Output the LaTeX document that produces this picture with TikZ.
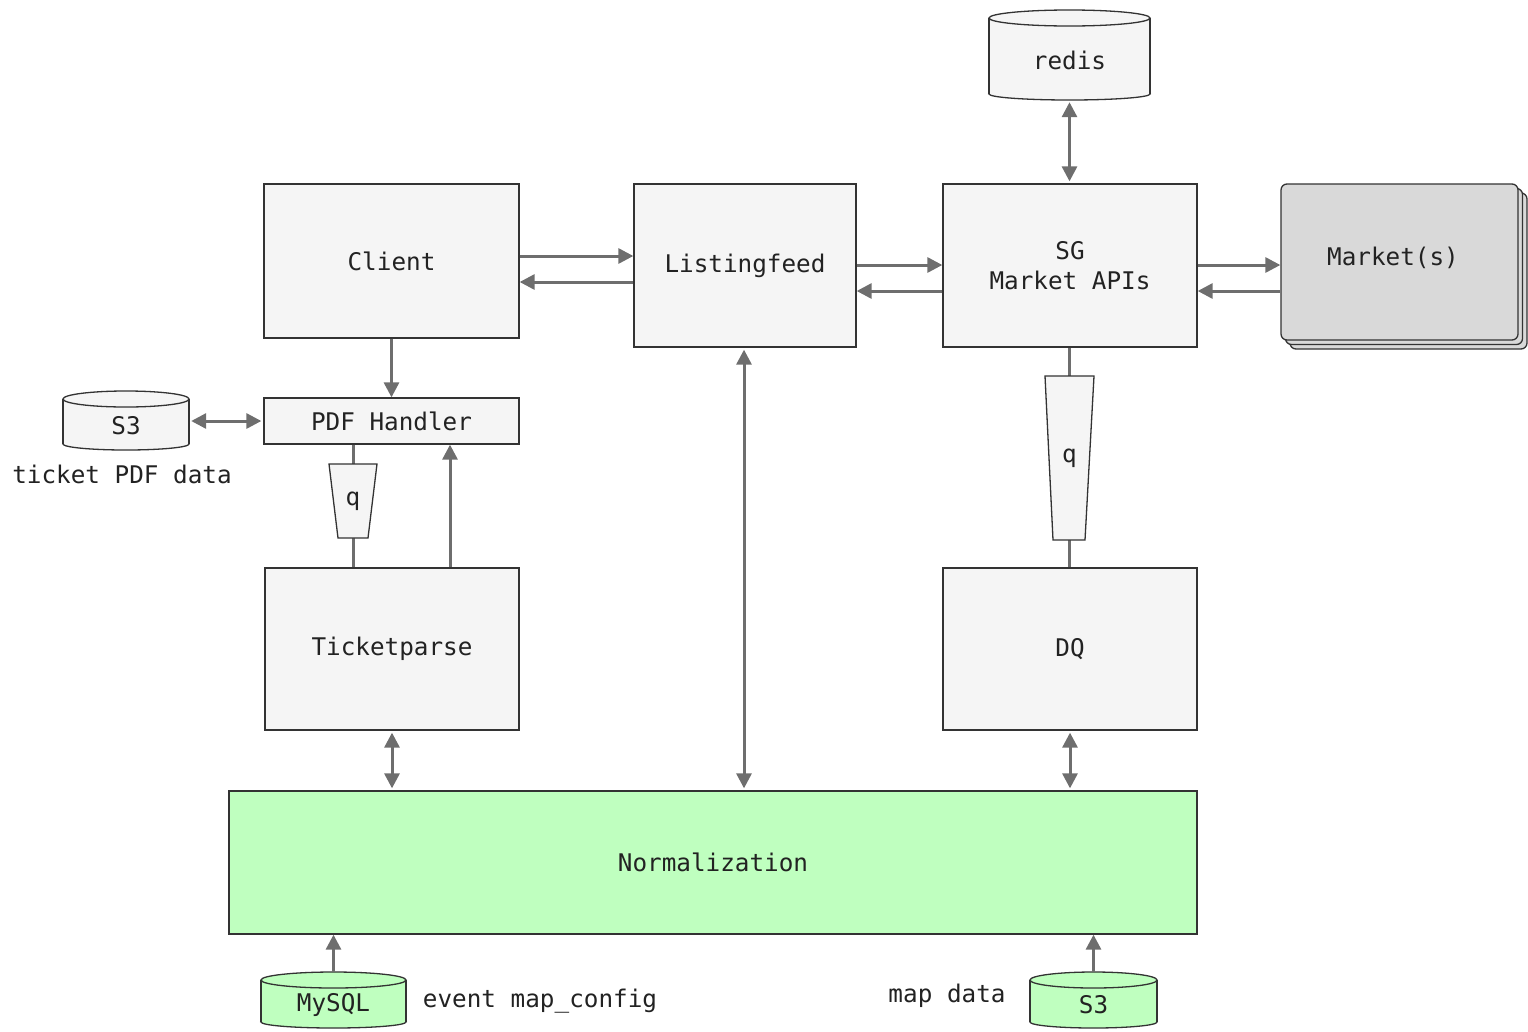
\documentclass[tikz,border=0pt]{standalone}
\usepackage{fontspec}
\setmonofont{DejaVu Sans Mono}
\usetikzlibrary{arrows.meta}
\definecolor{boxfill}{HTML}{F5F5F5}
\definecolor{boxline}{HTML}{333333}
\definecolor{arrowgray}{HTML}{6E6E6E}
\definecolor{mktfill}{HTML}{D9D9D9}
\definecolor{greenfill}{HTML}{BFFFBF}
\definecolor{txt}{HTML}{222222}
\newcommand\dbcyl[7]{% name, cx, top, bottom, rx, fill, text
  \fill[#6, draw=boxline, line width=1.3pt] (#2,#4-6) ellipse ({#5 pt} and 6pt);
  \fill[#6] (#2-#5,#3+8) rectangle (#2+#5,#4-6);
  \draw[boxline, line width=1.3pt] (#2-#5,#3+8) -- (#2-#5,#4-6) (#2+#5,#3+8) -- (#2+#5,#4-6);
  \fill[#6, draw=boxline, line width=1.3pt] (#2,#3+8) ellipse ({#5 pt} and 8pt);
  \node[inner sep=0pt, minimum width=2*#5 pt, minimum height=#4-#3 pt] (#1) at (#2,{(#3+#4)/2}) {};
  \node[lbl] (#1txt) at (#2,{(#3+#4)/2+5}) {#7};
}
\begin{document}
\begin{tikzpicture}[x=1pt,y=-1pt,
  lbl/.style={inner sep=0pt, font=\ttfamily\fontsize{24.3}{30}\selectfont, text=txt},
  box/.style={lbl, draw=boxline, fill=boxfill, line width=1.3pt, align=center},
  arr/.style={draw=arrowgray, line width=3pt, -{Triangle[length=15pt,width=15pt]}},
  darr/.style={draw=arrowgray, line width=3pt, {Triangle[length=15pt,width=15pt]}-{Triangle[length=15pt,width=15pt]}, shorten <=2pt, shorten >=2pt},
  plain/.style={draw=arrowgray, line width=3pt},
  trap/.style={draw=boxline, fill=boxfill, line width=1.3pt}
]
\useasboundingbox (0,0) rectangle (1528,1031);

% main boxes
\node[box, minimum width=255pt, minimum height=154pt] (client) at (391.5,261) {Client};
\node[box, minimum width=222pt, minimum height=163pt] (lf) at (745,265.5) {Listingfeed};
\node[box, minimum width=254pt, minimum height=163pt] (sg) at (1070,265.5) {SG\\Market APIs};
\node[box, minimum width=255pt, minimum height=46pt] (pdf) at (391.5,421) {PDF Handler};
\node[box, minimum width=254pt, minimum height=162pt] (tp) at (392,649) {Ticketparse};
\node[box, minimum width=254pt, minimum height=162pt] (dq) at (1070,649) {DQ};
\node[box, fill=greenfill, minimum width=968pt, minimum height=143pt] (norm) at (713,862.5) {Normalization};

% market stack
\draw[boxline, fill=mktfill, line width=1.3pt, rounded corners=6pt] (1290,193) rectangle (1527,349);
\draw[boxline, fill=mktfill, line width=1.3pt, rounded corners=6pt] (1285.5,188.5) rectangle (1522.5,344.5);
\node[box, fill=mktfill, rounded corners=6pt, minimum width=237pt, minimum height=156pt] (mkt) at (1399.5,262) {};
\node[lbl] (mkttxt) at (1393,258) {Market(s)};

% cylinders
\dbcyl{redis}{1069.5}{10}{100}{80.5}{boxfill}{redis}
\dbcyl{s3a}{126}{391}{450}{63}{boxfill}{S3}
\dbcyl{mysql}{333.5}{972}{1028}{72.5}{greenfill}{MySQL}
\dbcyl{s3b}{1093.5}{972}{1028}{63.5}{greenfill}{S3}

% queues
\coordinate (q1t) at (353,464);
\coordinate (q1b) at (353,538);
\coordinate (q2t) at (1069.5,376);
\coordinate (q2b) at (1069.5,540);
\draw[plain] (pdf.south -| q1t) -- (q1t);
\draw[plain] (q1b) -- (tp.north -| q1b);
\draw[plain] (sg.south -| q2t) -- (q2t);
\draw[plain] (q2b) -- (dq.north -| q2b);
\draw[trap] (329,464) -- (377,464) -- (368,538) -- (338,538) -- cycle;
\node[lbl] (q1) at (353,501) {q};
\draw[trap] (1045,376) -- (1094,376) -- (1085,540) -- (1053,540) -- cycle;
\node[lbl] (q2) at (1069.5,458) {q};

% labels
\node[lbl] (tpdf) at (122,474) {ticket PDF data};
\node[lbl] (emc) at (540,1001) {event map\_config};
\node[lbl] (mapd) at (947,996) {map data};

% connectors
\draw[arr] (client.east |- 0,256) -- (lf.west |- 0,256);
\draw[arr] (lf.west |- 0,282) -- (client.east |- 0,282);
\draw[arr] (lf.east |- 0,265) -- (sg.west |- 0,265);
\draw[arr] (sg.west |- 0,291) -- (lf.east |- 0,291);
\draw[arr] (sg.east |- 0,265) -- (mkt.west |- 0,265);
\draw[arr] (mkt.west |- 0,291) -- (sg.east |- 0,291);
\draw[darr] (redis.south) -- (sg.north -| redis.south);
\draw[arr] (client.south) -- (pdf.north);
\draw[darr] (s3a.east |- pdf.west) -- (pdf.west);
\coordinate (up) at (450,0);
\draw[arr] (tp.north -| up) -- (pdf.south -| up);
\draw[darr] (tp.south) -- (tp.south |- norm.north);
\coordinate (lfx) at (744,0);
\draw[darr] (lf.south -| lfx) -- (norm.north -| lfx);
\draw[darr] (dq.south) -- (dq.south |- norm.north);
\draw[arr] (mysql.north) -- (mysql.north |- norm.south);
\draw[arr] (s3b.north) -- (s3b.north |- norm.south);
\end{tikzpicture}
\end{document}
